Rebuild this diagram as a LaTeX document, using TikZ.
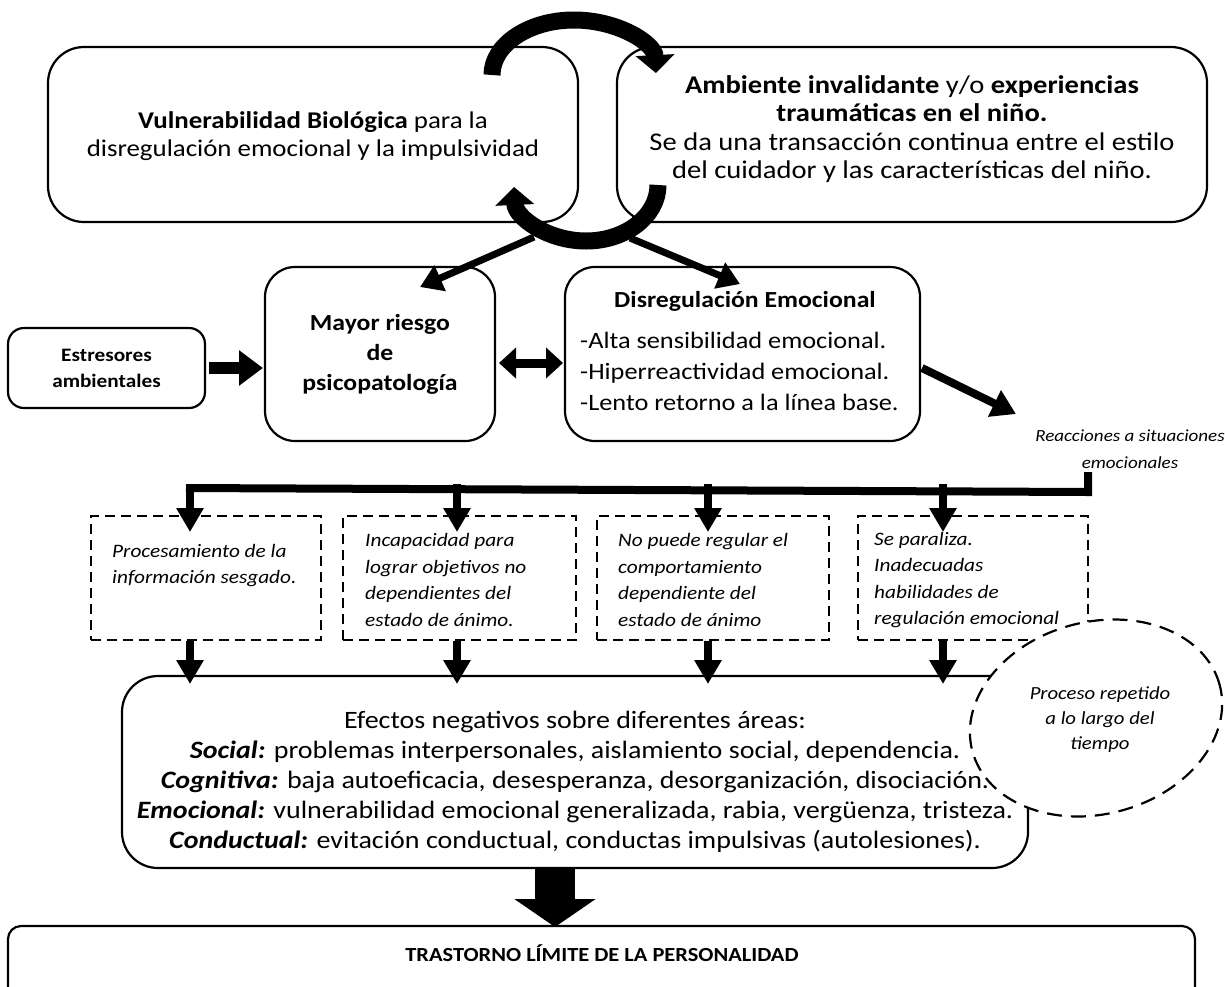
\documentclass[tikz,border=0pt]{standalone}
\usepackage{fontspec}
\setmainfont{Carlito}[FakeStretch=1.12]
\usetikzlibrary{arrows.meta,shapes.geometric}

\begin{document}
\begin{tikzpicture}[x=1pt,y=-1pt,
  box/.style={draw,line width=2.2pt,rectangle,inner sep=0pt},
  dbox/.style={draw,line width=2.2pt,dash pattern=on 10pt off 6pt,rectangle,inner sep=0pt},
  txt/.style={inner sep=0pt,align=center},
  note/.style={inner sep=0pt,align=left,anchor=west,font=\fontsize{19}{26.5}\selectfont\itshape},
  link/.style={line width=7pt,-{Triangle[length=22pt,width=27pt]}},
  drop/.style={line width=8pt,-{Triangle[length=24pt,width=26pt]}},
  swirl/.style={line width=17pt,-{Triangle[length=18pt,width=38pt]}},
]
\useasboundingbox (0,0) rectangle (1225,986);

% ---------- top row ----------
\node[box,rounded corners=36pt,minimum width=530pt,minimum height=175pt] (vuln) at (313,134.5) {};
\node[txt,font=\fontsize{24}{28}\selectfont] (vulnT) at (313,136)
  {\textbf{Vulnerabilidad Biológica} para la\\disregulación emocional y la impulsividad};

\node[box,rounded corners=36pt,minimum width=590pt,minimum height=175pt] (amb) at (912,134.5) {};
\node[txt,font=\fontsize{25.5}{28.5}\selectfont] (ambT) at (912,129)
  {\textbf{Ambiente invalidante} y/o \textbf{experiencias}\\\textbf{traumáticas en el niño.}\\Se da una transacción continua entre el estilo\\del cuidador y las características del niño.};

% ---------- middle row ----------
\node[box,rounded corners=16pt,minimum width=197pt,minimum height=80pt] (estr) at (106.5,368) {};
\node[txt,font=\fontsize{19}{26}\selectfont\bfseries] (estrT) at (106.5,368) {Estresores\\ambientales};

\node[box,rounded corners=30pt,minimum width=230pt,minimum height=174pt] (mayor) at (380,354) {};
\node[txt,font=\fontsize{23}{30}\selectfont\bfseries] (mayorT) at (380,354) {Mayor riesgo\\de\\psicopatología};

\node[box,rounded corners=30pt,minimum width=355pt,minimum height=174pt] (disr) at (742.5,354) {};
\node[txt,font=\fontsize{23}{26}\selectfont\bfseries] (disrT) at (745,301) {Disregulación Emocional};
\node[txt,align=left,anchor=west,font=\fontsize{23.5}{31}\selectfont] (disrL) at (580,371)
  {-Alta sensibilidad emocional.\\-Hiperreactividad emocional.\\-Lento retorno a la línea base.};

\node[txt,font=\fontsize{17}{27}\selectfont\itshape] (reac) at (1130,449) {Reacciones a situaciones\\emocionales};

% ---------- consequences ----------
\node[dbox,minimum width=230pt,minimum height=124pt] (c1) at (206,578) {};
\node[dbox,minimum width=233pt,minimum height=124pt] (c2) at (459.5,578) {};
\node[dbox,minimum width=232pt,minimum height=124pt] (c3) at (713,578) {};
\node[dbox,minimum width=230pt,minimum height=124pt] (c4) at (973,578) {};
\node[note] (c1T) at (112,565.5) {Procesamiento de la\\información sesgado.};
\node[note] (c2T) at (365,580) {Incapacidad para\\lograr objetivos no\\dependientes del\\estado de ánimo.};
\node[note] (c3T) at (618,580) {No puede regular el\\comportamiento\\dependiente del\\estado de ánimo};
\node[note] (c4T) at (874,580) {Se paraliza.\\Inadecuadas\\habilidades de\\regulación emocional};

% ---------- effects ----------
\node[box,rounded corners=36pt,minimum width=906pt,minimum height=192pt] (eff) at (575,772) {};
\node[txt,font=\fontsize{25}{30}\selectfont] (effT) at (575,782)
  {Efectos negativos sobre diferentes áreas:\\
   \textbf{\textit{Social:}} problemas interpersonales, aislamiento social, dependencia.\\
   \textbf{\textit{Cognitiva:}} baja autoeficacia, desesperanza, desorganización, disociación.\\
   \textbf{\textit{Emocional:}} vulnerabilidad emocional generalizada, rabia, vergüenza, tristeza.\\
   \textbf{\textit{Conductual:}} evitación conductual, conductas impulsivas (autolesiones).};

\node[ellipse,draw,line width=2.2pt,dash pattern=on 15pt off 9pt,fill=white,inner sep=0pt,
      minimum width=256pt,minimum height=192pt,rotate=15] (rep) at (1096,718) {};
\node[txt,font=\fontsize{18.5}{25}\selectfont\itshape] (repT) at (1100,720) {Proceso repetido\\a lo largo del\\tiempo};

% ---------- outcome ----------
\node[box,rounded corners=13pt,minimum width=1187pt,minimum height=90pt] (tlp) at (601.5,971) {};
\node[txt,font=\fontsize{20}{24}\selectfont\bfseries] (tlpT) at (602,953) {TRASTORNO LÍMITE DE LA PERSONALIDAD};

% ---------- transaction cycle between the top boxes ----------
\coordinate (topL) at (492,75);
\coordinate (botR) at (658,185);
\draw[swirl] (topL) arc[start angle=180,end angle=2,x radius=82pt,y radius=55pt];
\draw[swirl] (botR) arc[start angle=0,end angle=-178,x radius=72pt,y radius=56pt];

% ---------- connectors ----------
\coordinate (cycL) at (534,237);
\coordinate (cycR) at (630,238);
\coordinate (mayorIn) at (420,287);
\coordinate (disrIn) at (740,284);
\draw[link] (cycL) -- (mayorIn);
\draw[link] (cycR) -- (disrIn);

\coordinate (estrOut) at (209,368);
\coordinate (mayorL) at (263,368);
\draw[line width=12pt,-{Triangle[length=24pt,width=34pt]}] (estrOut) -- (mayorL);

\coordinate (mayorR) at (499,363);
\coordinate (disrL) at (563,363);
\draw[line width=9pt,{Triangle[length=17pt,width=30pt]}-{Triangle[length=17pt,width=30pt]}] (mayorR) -- (disrL);

\coordinate (disrOut) at (922,368);
\coordinate (reacIn) at (1016,414);
\draw[line width=8pt,-{Triangle[length=24pt,width=28pt]}] (disrOut) -- (reacIn);

% distribution bar towards the four consequences
\coordinate (stubTop) at (1088,472);
\coordinate (barR) at (1088,488);
\coordinate (barL) at (190,488);
\draw[line width=8pt] (stubTop) -- ([yshift=-4pt]barR) -- ([xshift=-4pt]barL);
\foreach \x in {190,457,708,943}{
  \draw[drop] (\x,484) -- (\x,532);
  \draw[drop] (\x,641) -- (\x,684);
}

% final arrow into the outcome box
\coordinate (effOut) at (555,869);
\coordinate (tlpIn) at (555,927);
\draw[line width=40pt,-{Triangle[length=28pt,width=80pt]}] (effOut) -- (tlpIn);
\end{tikzpicture}
\end{document}
